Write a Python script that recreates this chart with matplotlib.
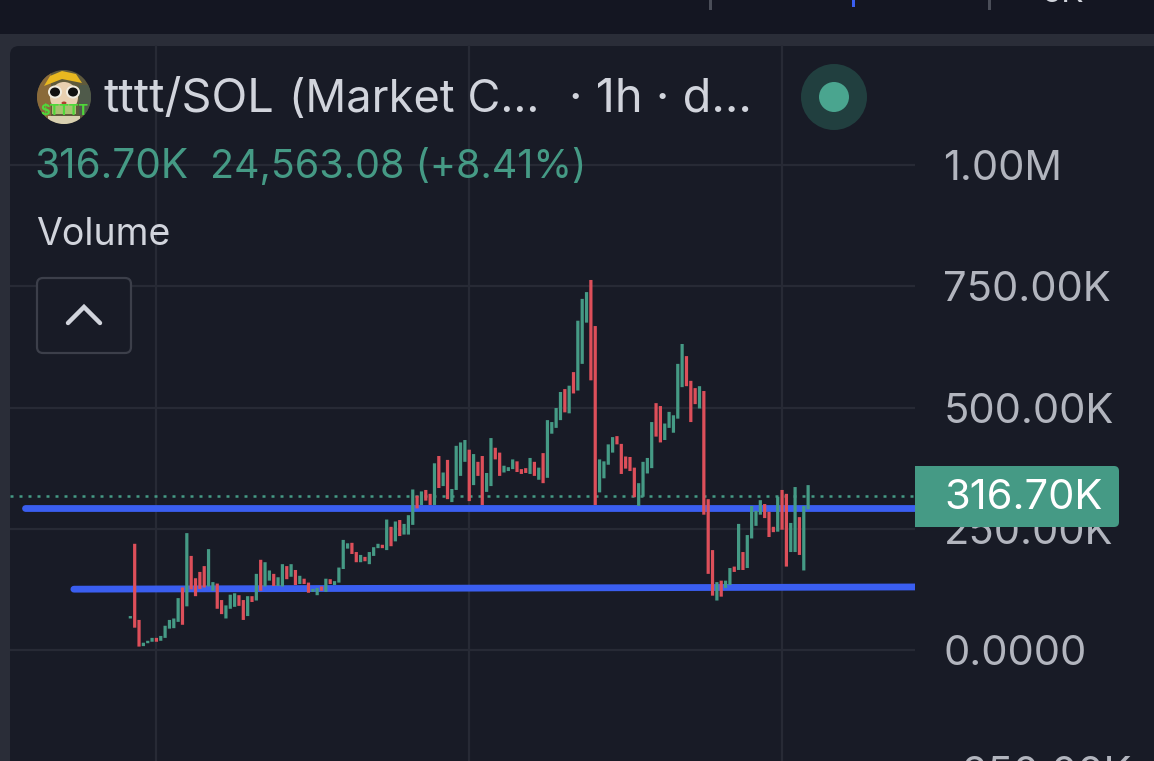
import matplotlib
matplotlib.use("Agg")
import matplotlib.pyplot as plt
import numpy as np
from matplotlib.patches import Circle, Ellipse, FancyBboxPatch, Polygon, Rectangle

plt.rcParams['font.family'] = ['Inter', 'DejaVu Sans']

# ── Data (thousands of market cap) ───────────────────────────────────────────

opens = [65, 219, 62, 8, 14, 17, 25, 19, 25, 44, 45, 58, 129, 90, 194, 148, 161, 173, 131, 122,
         137, 103, 65, 85, 89, 113, 103, 70, 111, 102, 186, 131, 143, 157, 132, 131, 173, 151, 165, 136,
         147, 139, 120, 113, 131, 120, 146, 134, 139, 167, 209, 221, 202, 181, 192, 177, 194, 210, 217, 206,
         254, 224, 268, 238, 238, 258, 318, 299, 330, 322, 299, 400, 338, 392, 305, 330, 359, 388, 413, 340,
         388, 400, 326, 338, 417, 407, 366, 369, 373, 389, 373, 375, 363, 388, 351, 406, 355, 446, 458, 474,
         538, 488, 573, 535, 590, 675, 763, 668, 325, 354, 382, 407, 441, 425, 399, 398, 376, 297, 316, 364,
         375, 509, 503, 433, 458, 448, 477, 542, 606, 555, 540, 498, 534, 311, 206, 102, 143, 128, 134, 172,
         165, 202, 169, 230, 256, 279, 301, 285, 254, 244, 330, 322, 202, 202, 274, 164, 290]
closes = [70, 46, 7, 15, 19, 25, 17, 29, 50, 62, 65, 107, 52, 241, 125, 111, 126, 129, 208, 140,
          85, 74, 92, 114, 117, 91, 62, 111, 99, 157, 122, 181, 164, 132, 150, 177, 146, 177, 134, 153,
          136, 118, 126, 128, 122, 147, 136, 142, 170, 227, 220, 198, 181, 196, 183, 202, 212, 219, 210, 269,
          214, 265, 235, 260, 278, 331, 292, 327, 308, 299, 385, 334, 366, 311, 332, 421, 428, 433, 307, 404,
          359, 299, 365, 437, 393, 359, 380, 377, 393, 367, 363, 365, 396, 359, 376, 344, 474, 470, 499, 532,
          490, 545, 529, 679, 724, 738, 556, 299, 393, 389, 424, 439, 424, 363, 374, 369, 315, 344, 388, 396,
          470, 440, 428, 467, 491, 484, 590, 631, 544, 470, 507, 544, 279, 157, 112, 140, 110, 143, 169, 161,
          260, 165, 237, 297, 287, 309, 272, 233, 243, 316, 248, 172, 262, 336, 196, 297, 340]

price_ticks = [1000, 750, 500, 250, 0, -250]
price_labels = ["1.00M", "750.00K", "500.00K", "250.00K", "0.0000", "-250.00K"]
time_ticks = [6, 78, 150]
last_price = 316.7
last_label = "316.70K"

support_hi = [293, 293]
support_lo = [125.4, 130]
support_hi_start = -24.2
support_lo_start = -13

BG = "#181b26"
BAND = "#2a2d38"
TOP = "#141622"
GRID = "#272a35"
UP = "#459a85"
DOWN = "#dd4f5a"
BLUE = "#3a5ef0"
AXIS_TEXT = "#b2b5be"
TEXT = "#d1d4dc"

W, H = 1154, 761
fig = plt.figure(figsize=(W / 100, H / 100), dpi=100, facecolor=BAND)

# ── Backdrop in pixel coordinates ────────────────────────────────────────────

back = fig.add_axes([0, 0, 1, 1], zorder=0)
back.set_xlim(0, W)
back.set_ylim(H, 0)
back.axis("off")
back.add_patch(Rectangle((0, 0), W, 34, color=TOP, lw=0))
back.add_patch(FancyBboxPatch((18, 54), W, H, boxstyle="round,pad=8,rounding_size=9", fc=BG, ec="none"))
for x, c, h in [(710, "#4a4d58", 10), (853, BLUE, 7), (989, "#4a4d58", 10)]:
    back.add_patch(Rectangle((x - 1.5, 0), 3, h, color=c, lw=0))
back.text(1041, 2, "5K", color=TEXT, fontsize=24, ha="left", va="baseline")

# ── Chart ────────────────────────────────────────────────────────────────────

x_left, x_right = -27.7, 180.6
y_top, y_bottom = 1247.5, -309.3

ax = fig.add_axes([10 / W, 1 - 800 / H, 905 / W, 755 / H], zorder=1)
ax.patch.set_alpha(0)
ax.set_xlim(x_left, x_right)
ax.set_ylim(y_bottom, y_top)
for s in ax.spines.values():
    s.set_visible(False)
ax.yaxis.tick_right()
ax.set_yticks(price_ticks, price_labels)
ax.set_xticks(time_ticks, [])
ax.tick_params(length=0, pad=20.5, labelsize=30, labelcolor=AXIS_TEXT)
ax.grid(True, color=GRID, linewidth=1.6)
ax.set_axisbelow(True)

ax.axhline(last_price, color=UP, linewidth=1.8, linestyle=(0, (1.2, 2.4)), zorder=2)
ax.plot([support_hi_start, x_right], support_hi, color=BLUE, linewidth=4.9, solid_capstyle="round", zorder=3)
ax.plot([support_lo_start, x_right], support_lo, color=BLUE, linewidth=4.9, solid_capstyle="round", zorder=3)

o = np.array(opens)
c = np.array(closes)
idx = np.arange(len(o))
colors = [UP if b >= a else DOWN for a, b in zip(o, c)]
bars = ax.bar(idx, np.abs(c - o), bottom=np.minimum(o, c), width=0.74, color=colors, linewidth=0, zorder=4)
for b in bars:
    b.set_snap(False)

# ── Overlay: legend, badge, avatar ───────────────────────────────────────────

top = fig.add_axes([0, 0, 1, 1], zorder=2)
top.set_xlim(0, W)
top.set_ylim(H, 0)
top.axis("off")

top.text(103, 100, "tttt/SOL", color=TEXT, fontsize=33.8, ha="left", va="center")
top.text(289, 100, "(Market C...", color=TEXT, fontsize=32.5, ha="left", va="center")
top.text(569, 100, "· 1h · d...", color=TEXT, fontsize=33.8, ha="left", va="center")
top.text(34, 167, "316.70K", color=UP, fontsize=29.2, ha="left", va="center")
top.text(210, 167, "24,563.08 (+8.41%)", color=UP, fontsize=28.4, ha="left", va="center")
top.text(36, 235, "Volume", color=TEXT, fontsize=27, ha="left", va="center")

top.add_patch(FancyBboxPatch((43, 284), 82, 63, boxstyle="round,pad=6,rounding_size=6",
                             fc=BG, ec="#3c3f4a", lw=1.6))
top.plot([68, 84, 100], [323, 307, 323], color=TEXT, lw=3.2, solid_capstyle="round", solid_joinstyle="miter")

top.add_patch(Circle((834, 97), 33, color="#213f3f", lw=0))
top.add_patch(Circle((834, 97), 15, color="#4aa58f", lw=0))

# price badge sits over the 250K label
top.add_patch(FancyBboxPatch((921, 472), 192, 49, boxstyle="round,pad=6,rounding_size=5", fc=UP, ec="none"))
top.add_patch(Rectangle((915, 466), 20, 61, color=UP, lw=0))
top.text(944, 498, last_label, color="white", fontsize=30, ha="left", va="center")

# token avatar
disc = Circle((64, 97), 27, fc="#5f5a3c", ec="none")
top.add_patch(disc)
parts = [
    Rectangle((37, 70), 14, 54, color="#8a6a3a", lw=0),
    Rectangle((79, 85), 14, 30, color="#4f5a4a", lw=0),
    Ellipse((64, 97), 28, 30, color="#e8d0b0", lw=0),
    Rectangle((52, 104), 24, 10, color="#a8c070", lw=0),
    Polygon([(44, 86), (50, 76), (62, 71), (76, 74), (82, 83), (62, 79)], color="#e8b820", lw=0),
    Ellipse((55, 92), 14, 13, color="#f0ece0", lw=0),
    Ellipse((73, 92), 14, 13, color="#f0ece0", lw=0),
    Ellipse((55, 92), 10, 9, color="#111111", lw=0),
    Ellipse((73, 92), 10, 9, color="#111111", lw=0),
    Ellipse((64, 103), 5, 3, color="#b04030", lw=0),
    Rectangle((48, 116), 32, 10, color="#d8d0b0", lw=0),
]
for p in parts:
    top.add_patch(p)
    p.set_clip_path(disc)
tag = top.text(64, 111, "$TTTT", color="#4fd83a", fontsize=10.5, fontweight="bold", ha="center", va="center",
               parse_math=False)

fig.savefig("out.png", dpi=100, facecolor=fig.get_facecolor())
